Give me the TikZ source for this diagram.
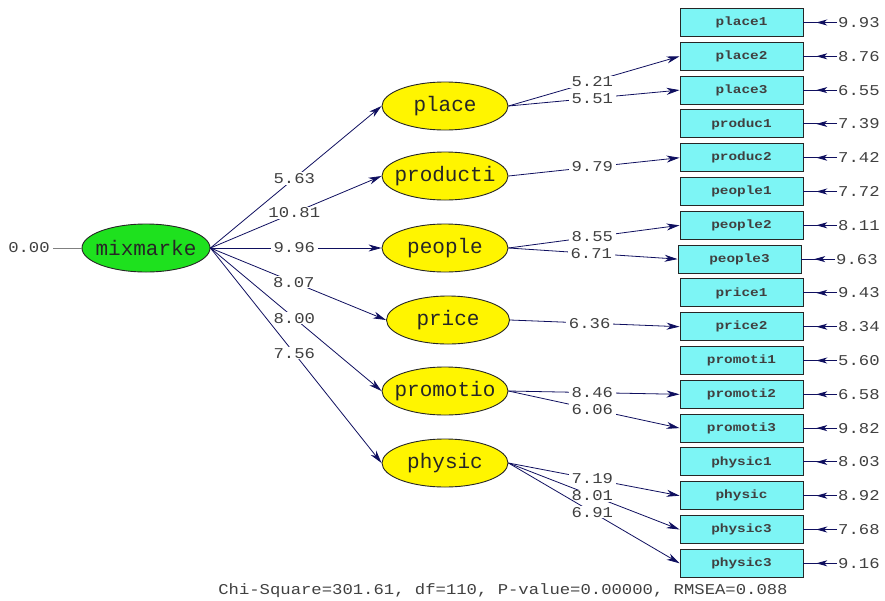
\documentclass[tikz,border=0pt]{standalone}
\usepackage{fontspec}
\setmainfont{Liberation Mono}
\newfontfamily\numfont[FakeStretch=1.15]{Liberation Mono}
\newfontfamily\boxfont[FakeStretch=1.2]{Liberation Mono}
\usetikzlibrary{shapes.geometric,arrows.meta,decorations.markings}
\definecolor{boxcyan}{RGB}{125,245,245}
\definecolor{latyellow}{RGB}{255,245,0}
\definecolor{mixgreen}{RGB}{30,225,30}
\definecolor{navy}{RGB}{15,15,95}
\newcommand{\zw}[1]{\makebox[0pt][c]{#1}}
\begin{document}
\begin{tikzpicture}[x=1pt,y=-1pt,
  obs/.style={draw=black!85, line width=0.9pt, fill=boxcyan, minimum width=123pt, minimum height=28pt, inner sep=0pt, text=black!75, font=\boxfont\bfseries\fontsize{12}{12}\selectfont},
  lat/.style={ellipse, draw=black!85, line width=0.9pt, fill=latyellow, minimum width=126pt, minimum height=48pt, inner sep=0pt, text=black!85, font=\fontsize{21}{21}\selectfont},
  num/.style={text=black!75, font=\numfont\fontsize{15}{15}\selectfont},
  err/.style={num, inner sep=1pt, anchor=west},
  lbl/.style={num, fill=white, inner xsep=3pt, inner ysep=1pt},
  path/.style={draw=navy, line width=0.8pt, -{Stealth[length=13pt,width=7pt,inset=4pt]}},
  errline/.style={draw=navy, line width=1pt, postaction={decorate},
    decoration={markings, mark=at position 0.62 with {\arrow{Stealth[length=11pt,width=6pt,inset=3pt]}}}}
]
\useasboundingbox (0,0) rectangle (885,600);

% latent variables
\node[lat, fill=mixgreen, minimum width=128pt] (mix) at (146,248) {\zw{mixmarke}};
\node[lat] (place) at (445,106) {\zw{place}};
\node[lat] (prod) at (445,176) {\zw{producti}};
\node[lat] (peop) at (445,248) {\zw{people}};
\node[lat, minimum width=123pt] (price) at (448,320) {\zw{price}};
\node[lat] (prom) at (445,391) {\zw{promotio}};
\node[lat] (phys) at (445,463) {\zw{physic}};

\node[num, anchor=center] (z) at (29,248) {0.00};
\draw[gray, line width=0.6pt] (z.east) -- (mix.west);

% observed variables
\node[obs] (x1) at (741.5,22.5) {place1};
\node[obs] (x2) at (741.5,56.3) {place2};
\node[obs] (x3) at (741.5,90.1) {place3};
\node[obs] (x4) at (741.5,123.9) {produc1};
\node[obs] (x5) at (741.5,157.7) {produc2};
\node[obs] (x6) at (741.5,191.5) {people1};
\node[obs] (x7) at (741.5,225.3) {people2};
\node[obs] (x8) at (739.5,259.1) {people3};
\node[obs] (x9) at (741.5,292.9) {price1};
\node[obs] (x10) at (741.5,326.7) {price2};
\node[obs] (x11) at (741.5,360.5) {promoti1};
\node[obs] (x12) at (741.5,394.3) {promoti2};
\node[obs] (x13) at (741.5,428.1) {promoti3};
\node[obs] (x14) at (741.5,461.9) {physic1};
\node[obs] (x15) at (741.5,495.7) {physic};
\node[obs] (x16) at (741.5,529.5) {physic3};
\node[obs] (x17) at (741.5,563.3) {physic3};

% error values
\node[err] (e1) at (837,22.5) {9.93};
\node[err] (e2) at (837,56.3) {8.76};
\node[err] (e3) at (837,90.1) {6.55};
\node[err] (e4) at (837,123.9) {7.39};
\node[err] (e5) at (837,157.7) {7.42};
\node[err] (e6) at (837,191.5) {7.72};
\node[err] (e7) at (837,225.3) {8.11};
\node[err] (e8) at (835,259.1) {9.63};
\node[err] (e9) at (837,292.9) {9.43};
\node[err] (e10) at (837,326.7) {8.34};
\node[err] (e11) at (837,360.5) {5.60};
\node[err] (e12) at (837,394.3) {6.58};
\node[err] (e13) at (837,428.1) {9.82};
\node[err] (e14) at (837,461.9) {8.03};
\node[err] (e15) at (837,495.7) {8.92};
\node[err] (e16) at (837,529.5) {7.68};
\node[err] (e17) at (837,563.3) {9.16};
\foreach \i in {1,...,17} {\draw[errline] (e\i.west) -- (x\i.east);}

% structural paths
\draw[path] (mix.east) -- node[lbl, pos=0.49] {5.63} (place.west);
\draw[path] (mix.east) -- node[lbl, pos=0.49] {10.81} (prod.west);
\draw[path] (mix.east) -- node[lbl, pos=0.49] {9.96} (peop.west);
\draw[path] (mix.east) -- node[lbl, pos=0.475] {8.07} (price.west);
\draw[path] (mix.east) -- node[lbl, pos=0.49] {8.00} (prom.west);
\draw[path] (mix.east) -- node[lbl, pos=0.49] {7.56} (phys.west);

% measurement paths
\draw[path] (place.east) -- node[lbl, pos=0.49] {5.21} (x2.west);
\draw[path] (place.east) -- node[lbl, pos=0.49] {5.51} (x3.west);
\draw[path] (prod.east) -- node[lbl, pos=0.49] {9.79} (x5.west);
\draw[path] (peop.east) -- node[lbl, pos=0.49] {8.55} (x7.west);
\draw[path] (peop.east) -- node[lbl, pos=0.49] {6.71} (x8.west);
\draw[path] (price.east) -- node[lbl, pos=0.47] {6.36} (x10.west);
\draw[path] (prom.east) -- node[lbl, pos=0.49] {8.46} (x12.west);
\draw[path] (prom.east) -- node[lbl, pos=0.49] {6.06} (x13.west);
\draw[path] (phys.east) -- node[lbl, pos=0.49] {7.19} (x15.west);
\draw[path] (phys.east) -- node[lbl, pos=0.49] {8.01} (x16.west);
\draw[path] (phys.east) -- node[lbl, pos=0.49] {6.91} (x17.west);

\node[num] (fit) at (503,591) {Chi-Square=301.61, df=110, P-value=0.00000, RMSEA=0.088};
\end{tikzpicture}
\end{document}
